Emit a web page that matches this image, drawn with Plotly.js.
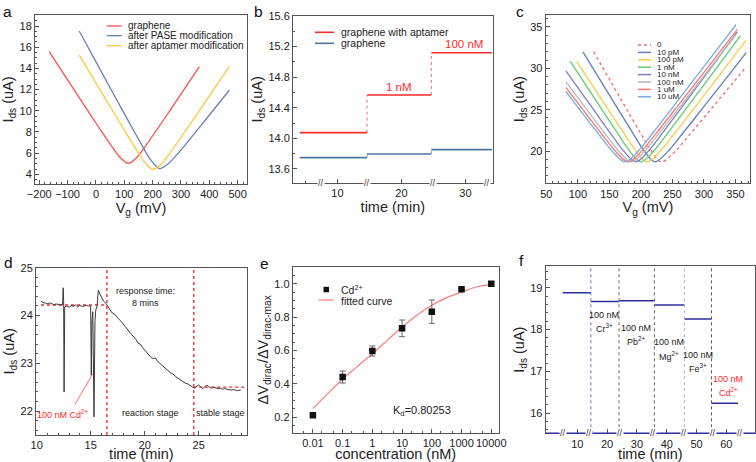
<!DOCTYPE html>
<html><head><meta charset="utf-8">
<script src="https://cdn.plot.ly/plotly-3.0.1.min.js"></script>
<style>html,body{margin:0;padding:0;background:#fff}#chart{width:756px;height:462px}</style>
</head><body><div id="chart"></div>
<script>
// ---------- Panel a : transfer curves ----------
const aGrapheneV = [-165,-96,-36,14,59,86,114,142,169,214,274,365];
const aGrapheneI = [15.58,12.75,10.30,8.28,6.52,5.57,5.04,5.54,6.46,8.17,10.54,14.16];
const aPaseV = [-59,4,64,124,164,194,224,252,284,334,394,471];
const aPaseI = [17.53,14.43,11.49,8.58,6.67,5.34,4.55,4.93,5.81,7.40,9.39,11.96];
const aAptV = [-59,2,62,112,152,177,202,227,257,302,372,471];
const aAptI = [15.26,12.54,9.86,7.65,5.94,4.99,4.48,4.89,5.88,7.57,10.30,14.20];
const aNames = ['graphene','after PASE modification','after aptamer modification'];

// ---------- Panel b : step response ----------
const bSegStart = [4.11, 14.63, 24.67];
const bSegEnd = [14.63, 24.67, 34.16];
const bAptamer = [14.075, 14.567, 15.12];
const bGraphene = [13.748, 13.796, 13.853];
const bLabels = ['1 nM', '100 nM'];
const bLabelT = [19.6, 29.8];
const bLabelI = [14.67, 15.23];
const bBreaks = [7.5, 14.6, 25.0, 33.3];

// ---------- Panel c : transfer curves vs concentration ----------
const cNames = ['0','10 pM','100 pM','1 nM','10 nM','100 nM','1 uM','10 uM'];
const cV = [
  [125,150,175,200,215,232,250,275,300,330,365],
  [108,162,187,204,222,242,267,302,337,367],
  [98,150,175,192,210,230,255,290,330,367],
  [88,140,165,182,200,220,245,280,320,358],
  [81,132,157,174,192,212,237,272,312,353],
  [81,125,150,167,185,205,230,265,305,350],
  [81,120,145,162,180,200,225,260,300,353],
  [81,115,140,157,175,195,220,255,295,351]
];
const cI = [
  [32.0,28.68,25.37,22.08,20.18,18.7,19.64,21.79,24.05,26.79,30.0],
  [32.0,25.27,22.19,20.16,18.7,19.9,22.21,25.58,28.98,31.9],
  [30.85,24.79,21.92,20.03,18.7,19.94,22.3,25.74,29.72,33.4],
  [30.85,24.79,21.92,20.03,18.7,19.98,22.43,25.98,30.06,33.95],
  [29.7,24.24,21.6,19.88,18.7,20.0,22.47,26.04,30.16,34.4],
  [28.4,23.92,21.42,19.8,18.7,19.91,22.25,25.65,29.57,34.0],
  [27.7,23.81,21.36,19.77,18.7,19.9,22.22,25.61,29.51,34.7],
  [27.2,23.81,21.36,19.77,18.7,19.94,22.3,25.74,29.72,35.3]
];
const cColors = ['#f26b6b','#5f82b8','#f7cf45','#5ccf72','#7f7fc4','#b9b9b9','#ff7272','#74aee0'];

// ---------- Panel d : real-time response ----------
const dTime = [10.4,10.6,10.8,11.0,11.2,11.4,11.6,11.8,12.0,12.2,12.4,12.46,12.5,12.54,12.6,12.8,13.0,13.2,13.4,13.6,13.8,14.0,14.2,14.4,14.6,14.8,15.0,15.06,15.12,15.2,15.31,15.4,15.48,15.6,15.71,15.85,16.0,16.2,16.45,
  16.6,16.8,17.0,17.2,17.4,17.6,17.8,18.0,18.2,18.4,18.6,18.8,19.0,19.2,19.4,19.6,19.8,20.0,20.2,20.4,20.6,20.8,21.0,21.2,21.4,21.6,21.8,22.0,22.2,22.4,22.6,22.8,23.0,23.2,23.4,23.6,23.8,24.0,24.2,24.4,24.6,24.8,25.0,25.2,25.4,25.6,25.8,26.0,26.2,26.4,26.6,26.8,27.0,27.2,27.4,27.6,27.8,28.0,28.2,28.4,28.6,28.9];
const dCurrent = [24.30,24.27,24.26,24.25,24.26,24.24,24.23,24.24,24.23,24.22,24.22,24.58,24.30,22.40,24.18,24.20,24.17,24.21,24.19,24.22,24.18,24.21,24.19,24.20,24.21,24.20,24.20,22.75,23.90,24.08,21.88,23.90,24.12,24.20,24.53,24.45,24.38,24.30,24.24,
  24.18,24.12,24.05,24.03,23.97,23.93,23.88,23.82,23.78,23.72,23.66,23.60,23.55,23.50,23.42,23.40,23.33,23.28,23.22,23.18,23.12,23.10,23.11,23.04,23.00,22.96,22.92,22.88,22.83,22.80,22.78,22.73,22.70,22.67,22.64,22.62,22.58,22.57,22.53,22.51,22.48,22.52,22.55,22.50,22.47,22.52,22.54,22.50,22.48,22.50,22.49,22.47,22.48,22.46,22.47,22.46,22.45,22.44,22.45,22.44,22.43,22.44];
const dRefStart = [10.4, 24.5];
const dRefEnd = [16.5, 29.45];
const dRefLevel = [24.22, 22.5];
const dMarkers = [16.5, 24.55];

// ---------- Panel e : dose response ----------
const eConc = [0.01,0.1,1,10,100,1000,10000];
const eRatio = [0.21,0.44,0.596,0.732,0.832,0.966,1.0];
const eErr = [0.005,0.036,0.03,0.05,0.07,0,0];
const eFitConc = [0.01,0.0316,0.1,0.316,1,3.16,10,31.6,100,316,1000,3162,10000];
const eFitRatio = [0.25,0.34,0.428,0.504,0.58,0.66,0.74,0.81,0.87,0.916,0.95,0.98,0.996];
const eTicks = [0.01,0.1,1,10,100,1000,10000];
const eTickText = ['0.01','0.1','1','10','100','1000','10000'];

// ---------- Panel f : selectivity ----------
const fSegStart = [5.1,14.55,24.0,35.85,45.9,55.0];
const fSegEnd = [14.55,24.0,35.85,45.9,55.0,63.9];
const fLevels = [18.88,18.67,18.69,18.59,18.25,16.24];
const fIons = ['Cr<sup>3+</sup>','Pb<sup>2+</sup>','Mg<sup>2+</sup>','Fe<sup>3+</sup>','Cd<sup>2+</sup>'];
const fLabelT = [19.1,29.7,40.8,50.4,60.7];
const fLabelI = [18.36,18.04,17.70,17.40,16.83];
const fSepColors = ['#6f6fd0','#666666','#666666','#b0b0c8','#555555'];
const fBreaks = [5.08,13.97,24.46,35.4,45.9,55.6,64.7];

// ================= layout helpers =================
const F = 'Liberation Sans, Arial, sans-serif';
const W = 756, H = 462;
const PX = v => v / W, PY = v => 1 - v / H;
const TXT = '#222', AX = '#555';

function ax(extra){
  return Object.assign({
    showline:true, linecolor:AX, linewidth:1, mirror:true,
    ticks:'inside', ticklen:4, tickcolor:AX, tickwidth:1,
    tickfont:{family:F, size:11, color:TXT},
    showgrid:false, zeroline:false, automargin:false, fixedrange:true,
    minor:{ticks:'inside', ticklen:2, tickcolor:AX, showgrid:false}
  }, extra);
}
function ttl(text, st){ return {text:text, font:{family:F, size:14.5, color:TXT}, standoff:(st===undefined?2:st)}; }

function steps(starts, ends, levels){
  const x=[], y=[];
  for(let i=0;i<levels.length;i++){ x.push(starts[i], ends[i], null); y.push(levels[i], levels[i], null); }
  return {x, y};
}
function risers(ends, levels){
  const x=[], y=[];
  for(let i=0;i<levels.length-1;i++){ x.push(ends[i], ends[i], null); y.push(levels[i], levels[i+1], null); }
  return {x, y};
}

const traces = [];
// a
const aColors = ['#ff4f4f','#6a7fb6','#ffc63f'];
[[aGrapheneV,aGrapheneI],[aPaseV,aPaseI],[aAptV,aAptI]].forEach((d,i)=>{
  traces.push({x:d[0], y:d[1], type:'scatter', mode:'lines', xaxis:'x', yaxis:'y',
    line:{color:aColors[i], width:1.3, shape:'spline', smoothing:1}, showlegend:false, name:aNames[i]});
});
// b
const bRed='#ff2a2a', bBlue='#4f76a3';
let s = steps(bSegStart,bSegEnd,bAptamer);
traces.push({x:s.x, y:s.y, type:'scatter', mode:'lines', xaxis:'x2', yaxis:'y2', line:{color:bRed,width:1.6}, showlegend:false});
s = risers(bSegEnd,bAptamer);
traces.push({x:s.x, y:s.y, type:'scatter', mode:'lines', xaxis:'x2', yaxis:'y2', line:{color:'#ff6a6a',width:1,dash:'dot'}, showlegend:false});
s = steps(bSegStart,bSegEnd,bGraphene);
traces.push({x:s.x, y:s.y, type:'scatter', mode:'lines', xaxis:'x2', yaxis:'y2', line:{color:bBlue,width:1.6}, showlegend:false});
s = risers(bSegEnd,bGraphene);
traces.push({x:s.x, y:s.y, type:'scatter', mode:'lines', xaxis:'x2', yaxis:'y2', line:{color:'#999',width:1,dash:'dot'}, showlegend:false});
// c
cV.forEach((v,i)=>{
  traces.push({x:v, y:cI[i], type:'scatter', mode:'lines', xaxis:'x3', yaxis:'y3', name:cNames[i],
    line:{color:cColors[i], width:1.3, shape:'spline', smoothing:1, dash: i===0?'dot':'solid'}, showlegend:false});
});
// d
dRefLevel.forEach((lv,i)=>{
  traces.push({x:[dRefStart[i],dRefEnd[i]], y:[lv,lv], type:'scatter', mode:'lines', xaxis:'x4', yaxis:'y4',
    line:{color:'#ff2a2a', width:1.3, dash:'dot'}, showlegend:false});
});
traces.push({x:dTime, y:dCurrent, type:'scatter', mode:'lines', xaxis:'x4', yaxis:'y4', line:{color:'#3a3a3a', width:1}, showlegend:false});
// e
traces.push({x:eFitConc, y:eFitRatio, type:'scatter', mode:'lines', xaxis:'x5', yaxis:'y5', line:{color:'#ff7a7a', width:1.2, shape:'spline'}, showlegend:false});
traces.push({x:eConc, y:eRatio, type:'scatter', mode:'markers', xaxis:'x5', yaxis:'y5',
  marker:{symbol:'square', size:6.5, color:'#111'},
  error_y:{type:'data', array:eErr, visible:true, color:'#666', thickness:1, width:3}, showlegend:false});
// f
s = steps(fSegStart,fSegEnd,fLevels);
traces.push({x:s.x, y:s.y, type:'scatter', mode:'lines', xaxis:'x6', yaxis:'y6', line:{color:'#2e2e9e',width:1.5}, showlegend:false});

// ================= shapes & annotations =================
const shapes = [], ann = [];
function pline(x0,y0,x1,y1,color,width,dash){
  shapes.push({type:'line', xref:'paper', yref:'paper', x0:PX(x0), x1:PX(x1), y0:PY(y0), y1:PY(y1), line:{color, width, dash:dash||'solid'}});
}
function ptext(x,y,text,size,color,anchor,yanchor){
  ann.push({xref:'paper', yref:'paper', x:PX(x), y:PY(y), text, showarrow:false, xanchor:anchor||'left', yanchor:yanchor||'middle',
    font:{family:F, size, color:color||TXT}});
}
// panel letters
[['a',7.5,0.5],['b',258,0.5],['c',520,0.5],['d',8.5,251.5],['e',264,252.5],['f',521,250]].forEach(l=>ptext(l[1],l[2],l[0],15.5,'#111','center','top'));

// legend a
[26,35.7,45.7].forEach((y,i)=>{ pline(106.7,y,121.7,y,aColors[i],1.3); ptext(126,y,aNames[i],10,TXT); });
// legend b
pline(315,32.3,334,32.3,bRed,1.6); ptext(339,32.3,'graphene with aptamer',10.5,TXT);
pline(315,43.3,334,43.3,bBlue,1.6); ptext(339,43.3,'graphene',10.5,TXT);
// legend c
cNames.forEach((n,i)=>{ const y=45+7.4*i; pline(638,y,651,y,cColors[i],1.5,i===0?'dot':'solid'); ptext(655,y,n,8,TXT); });
// legend e
shapes.push({type:'rect', xref:'paper', yref:'paper', x0:PX(323.5), x1:PX(329), y0:PY(292.3), y1:PY(286.8), fillcolor:'#111', line:{width:0}});
ptext(339,289.5,'Cd<sup>2+</sup>',10.5,TXT);
pline(318.5,300,333.5,300,'#ff7a7a',1.2); ptext(339,300.5,'fitted curve',10.5,TXT);

// b annotations
bLabels.forEach((t,i)=>ann.push({xref:'x2', yref:'y2', x:bLabelT[i], y:bLabelI[i], text:t, showarrow:false, font:{family:F,size:11.5,color:'#ff2a2a'}}));
bBreaks.forEach(t=>ann.push({xref:'x2', yref:'y2 domain', x:t, y:0, yanchor:'middle', text:'//', showarrow:false, bgcolor:'#fff', borderpad:0, font:{family:F,size:9,color:'#333'}}));

// d annotations
ann.push({xref:'x4', yref:'y4', x:20.04, y:24.51, text:'response time:', showarrow:false, font:{family:F,size:9,color:TXT}});
ann.push({xref:'x4', yref:'y4', x:20.04, y:24.27, text:'8 mins', showarrow:false, font:{family:F,size:9,color:TXT}});
ann.push({xref:'x4', yref:'y4', x:20.5, y:21.96, text:'reaction stage', showarrow:false, font:{family:F,size:9,color:TXT}});
ann.push({xref:'x4', yref:'y4', x:27.0, y:21.96, text:'stable stage', showarrow:false, font:{family:F,size:9,color:TXT}});
ann.push({xref:'x4', yref:'y4', x:12.47, y:21.94, text:'100 nM Cd<sup>2+</sup>', showarrow:false, font:{family:F,size:9,color:'#ff2a2a'}});
shapes.push({type:'line', xref:'x4', yref:'y4', x0:13.55, y0:22.14, x1:15.19, y1:22.78, line:{color:'#ff4a4a', width:0.8}});
dMarkers.forEach(t=>shapes.push({type:'line', xref:'x4', yref:'y4 domain', x0:t, x1:t, y0:0, y1:1, line:{color:'#ff2a2a', width:1.4, dash:'dot'}}));

// e annotation
ann.push({xref:'x5', yref:'y5', x:Math.log10(46.8), y:0.236, text:'K<sub>d</sub>=0.80253', showarrow:false, font:{family:F,size:11,color:TXT}});

// f annotations
fIons.forEach((ion,i)=>{
  const col = i===fIons.length-1 ? '#ff2a2a' : TXT;
  ann.push({xref:'x6', yref:'y6', x:fLabelT[i], y:fLabelI[i], text:'100 nM', showarrow:false, font:{family:F,size:9,color:col}});
  ann.push({xref:'x6', yref:'y6', x:fLabelT[i], y:fLabelI[i]-0.32, text:ion, showarrow:false, font:{family:F,size:9,color:col}});
});
fSegEnd.slice(0,-1).forEach((t,i)=>shapes.push({type:'line', xref:'x6', yref:'y6 domain', x0:t, x1:t, y0:0, y1:1, line:{color:fSepColors[i], width:1, dash:'dot'}}));
shapes.push({type:'line', xref:'x6 domain', yref:'y6 domain', x0:0, x1:1, y0:0, y1:0, line:{color:'#3030a0', width:1.5}});
fBreaks.forEach(t=>ann.push({xref:'x6', yref:'y6 domain', x:t, y:0, yanchor:'middle', text:'//', showarrow:false, bgcolor:'#fff', borderpad:0, font:{family:F,size:9,color:'#333'}}));

const layout = {
  width:W, height:H, margin:{l:0,r:0,t:0,b:0}, paper_bgcolor:'#fff', plot_bgcolor:'#fff',
  font:{family:F, color:TXT}, showlegend:false,
  xaxis: ax({domain:[PX(35),PX(247)], anchor:'y', range:[-215,533], dtick:100, tick0:0, title:ttl('V<sub>g</sub> (mV)',0)}),
  yaxis: ax({domain:[PY(184),PY(15)], anchor:'x', range:[3.09,19.04], dtick:2, tick0:0, title:ttl('I<sub>ds</sub> (uA)')}),
  xaxis2: ax({domain:[PX(293),PX(492.7)], anchor:'y2', range:[3.06,34.26], tickvals:[10,20,30], minor:{ticks:'inside',ticklen:2,tickcolor:AX,tickvals:[5,15,25]}, title:ttl('time (min)',0)}),
  yaxis2: ax({domain:[PY(182.7),PY(16)], anchor:'x2', range:[13.42,15.6], dtick:0.4, tick0:13.6, tickformat:'.1f', minor:{ticks:'inside',ticklen:2,tickcolor:AX,dtick:0.2}, title:ttl('I<sub>ds</sub> (uA)')}),
  xaxis3: ax({domain:[PX(545.7),PX(750)], anchor:'y3', range:[49,373], dtick:50, tick0:0, title:ttl('V<sub>g</sub> (mV)',0)}),
  yaxis3: ax({domain:[PY(183.3),PY(15)], anchor:'x3', range:[16.1,36.45], dtick:5, tick0:0, title:ttl('I<sub>ds</sub> (uA)')}),
  xaxis4: ax({domain:[PX(36),PX(246.7)], anchor:'y4', range:[9.94,29.45], dtick:5, tick0:0, title:ttl('time (min)',1)}),
  yaxis4: ax({domain:[PY(435),PY(267.7)], anchor:'x4', range:[21.5,25], dtick:1, tick0:0, title:ttl('I<sub>ds</sub> (uA)')}),
  xaxis5: ax({domain:[PX(292.7),PX(498.7)], anchor:'y5', type:'log', range:[-2.68,4.25], tickvals:eTicks, ticktext:eTickText, minor:{ticks:'inside',ticklen:2,tickcolor:AX}, title:ttl('concentration (nM)',1)}),
  yaxis5: ax({domain:[PY(432.7),PY(267)], anchor:'x5', range:[0.106,1.1], dtick:0.2, tick0:0, tickformat:'.1f', title:ttl('ΔV<sub>dirac</sub>/ΔV<sub>dirac-max</sub>')}),
  xaxis6: ax({domain:[PX(545.7),PX(755)], anchor:'y6', range:[-0.6,69.6], tickvals:[10,20,30,40,50,60], minor:{ticks:'inside',ticklen:2,tickcolor:AX,tickvals:[5,15,25,35,45,55,65]}, title:ttl('time (min)',1)}),
  yaxis6: ax({domain:[PY(433.3),PY(266)], anchor:'x6', range:[15.52,19.52], dtick:1, tick0:0, title:ttl('I<sub>ds</sub> (uA)')}),
  shapes:shapes, annotations:ann
};
Plotly.newPlot('chart', traces, layout, {staticPlot:true, displayModeBar:false});
</script></body></html>
